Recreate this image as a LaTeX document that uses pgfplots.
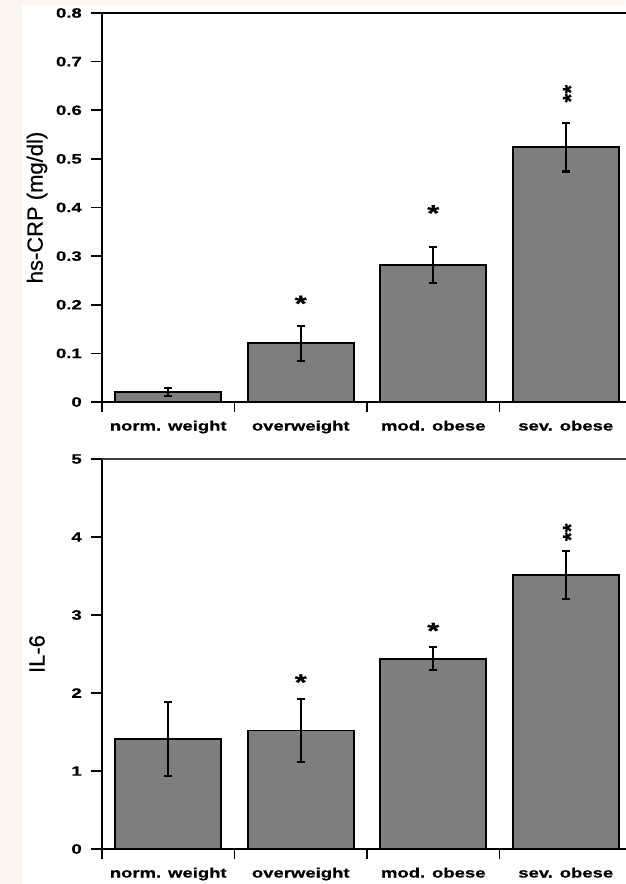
\documentclass[border=0pt]{standalone}
\usepackage{pgfplots}
\pgfplotsset{compat=1.18}
\usepackage{fontspec}
\setmainfont{Liberation Sans}
\newfontfamily\tickfont[FakeStretch=1.36,FakeBold=0.6]{Liberation Sans}
\newfontfamily\labfont[FakeBold=0.5]{Liberation Sans}
\definecolor{cream}{RGB}{252,244,238}
\definecolor{bargray}{RGB}{126,126,126}
\newcommand\starfont{\tickfont\bfseries\fontsize{17pt}{17pt}\selectfont}
\newcommand\dstarfont{\labfont\bfseries\fontsize{17pt}{17pt}\selectfont}

\pgfplotstableread{
x y e
0 0.020 0.008
1 0.121 0.036
2 0.282 0.037
3 0.524 0.050
}\crp
\pgfplotstableread{
x y e
0 1.41 0.47
1 1.52 0.40
2 2.44 0.15
3 3.51 0.31
}\ilsix

\pgfplotsset{
  mystyle/.style={
    scale only axis, width=397.5pt,
    xmin=-0.5, xmax=3.5,
    axis x line*=bottom, axis y line*=left,
    axis line style={-, black, line width=1.3pt},
    xtick={0,1,2,3},
    xticklabels={norm. weight, overweight, mod. obese, sev. obese},
    minor xtick={-0.5,0.5,1.5,2.5,3.5},
    tick align=outside,
    major tick length=8.25pt,
    minor tick length=7.5pt,
    tick style={black, line width=1.3pt},
    major x tick style={draw=none},
    ticklabel style={font=\tickfont\bfseries\fontsize{10.2pt}{12pt}\selectfont},
    /pgf/number format/assume math mode=true,
    x tick label style={yshift=-2.2pt},
    y tick label style={xshift=-3.4pt},
    every axis y label/.style={at={(rel axis cs:0,0.5)}, xshift=-48.75pt, rotate=90, anchor=center, font=\labfont\fontsize{16.5pt}{18pt}\selectfont},
    ybar, bar width=79.5pt,
    clip=false,
  },
  barplot/.style={fill=bargray, draw=black, line width=1.3pt,
    error bars/.cd, y dir=both, y explicit,
    error bar style={line width=1.6pt, black},
    error mark=-,
    error mark options={rotate=90, black, line width=1.6pt, mark size=3pt}},
}

\begin{document}
\begin{tikzpicture}
\fill[cream] (0,0) rectangle (468.75pt,-663pt);
\fill[white] (16.5pt,-3.75pt) rectangle (468.75pt,-663pt);

\begin{axis}[mystyle, at={(76.5pt,-301.5pt)}, anchor=south west, height=291.75pt,
  ymin=0, ymax=0.8, ytick={0,0.1,0.2,0.3,0.4,0.5,0.6,0.7,0.8},
  ylabel={hs-CRP (mg/dl)}]
\addplot[barplot] table[x=x, y=y, y error=e] {\crp};
\draw[black, line width=1pt] (rel axis cs:0,1) -- (rel axis cs:1,1);
\node[font=\starfont, anchor=base, yshift=-10pt] at (axis cs:1,0.214) {*};
\node[font=\starfont, anchor=base, yshift=-10pt] at (axis cs:2,0.40) {*};
\node[font=\dstarfont, anchor=center, rotate=90, yshift=-3.8pt] at (axis cs:3,0.634) {**};
\end{axis}

\begin{axis}[mystyle, at={(76.5pt,-636.75pt)}, anchor=south west, height=292.5pt,
  ymin=0, ymax=5, ytick={0,1,2,3,4,5},
  ylabel={IL-6}]
\addplot[barplot] table[x=x, y=y, y error=e] {\ilsix};
\draw[black!75, line width=1.8pt] (rel axis cs:0,1) -- (rel axis cs:1,1);
\node[font=\starfont, anchor=base, yshift=-10pt] at (axis cs:1,2.21) {*};
\node[font=\starfont, anchor=base, yshift=-10pt] at (axis cs:2,2.87) {*};
\node[font=\dstarfont, anchor=center, rotate=90, yshift=-3.8pt] at (axis cs:3,4.06) {**};
\end{axis}

\pgfresetboundingbox
\path (0,0) rectangle (468.75pt,-663pt);
\end{tikzpicture}
\end{document}
